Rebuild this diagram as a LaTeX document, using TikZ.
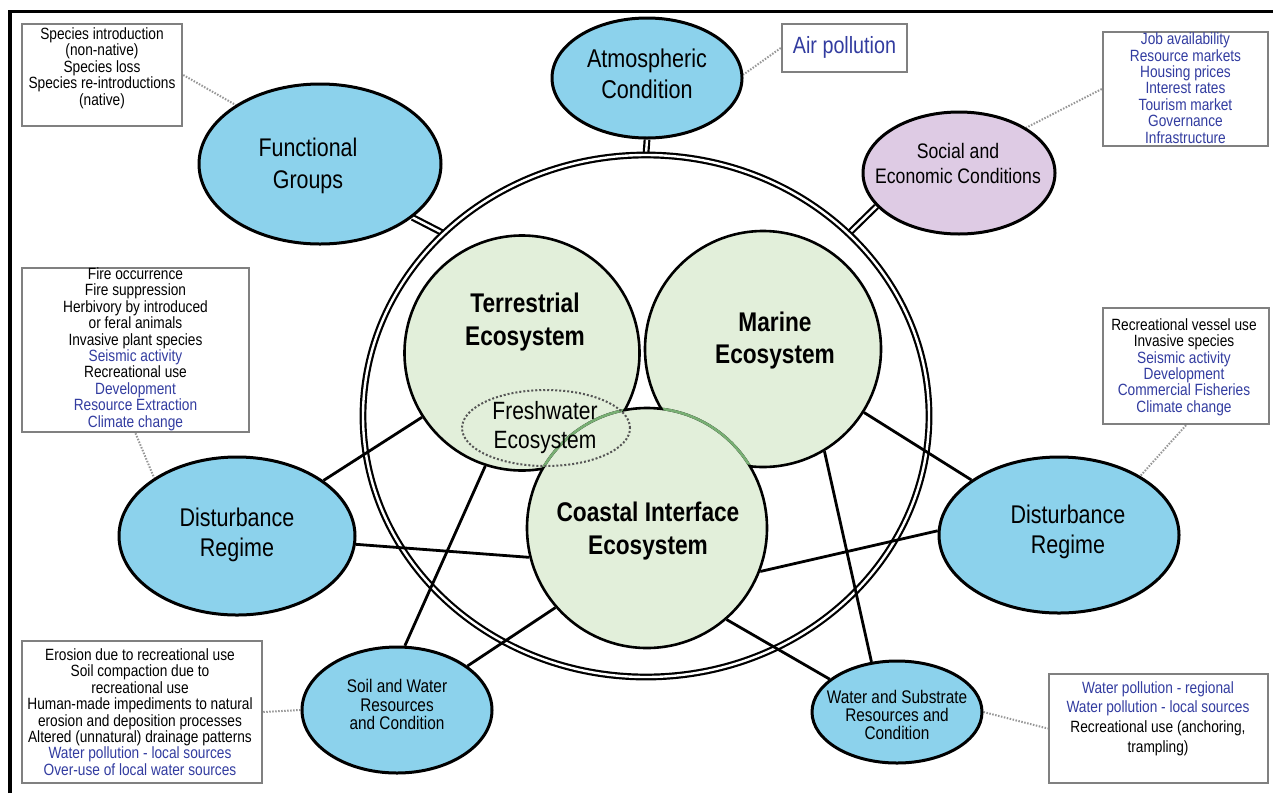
\documentclass[tikz,border=0pt]{standalone}
\usepackage{fontspec}
\setmainfont{Liberation Sans}[FakeStretch=0.84]
\usetikzlibrary{shapes.geometric}
\definecolor{cyanfill}{RGB}{140,210,236}
\definecolor{ecogreen}{RGB}{226,239,218}
\definecolor{lavender}{RGB}{222,203,228}
\definecolor{txtblue}{RGB}{50,60,160}
\definecolor{boxgray}{RGB}{128,128,128}
\definecolor{dotgray}{RGB}{150,150,150}
\definecolor{fwgray}{RGB}{85,85,85}
\definecolor{arcgreen}{RGB}{120,175,115}
\pgfdeclarelayer{conn}
\pgfdeclarelayer{ringl}
\pgfdeclarelayer{lines}
\pgfsetlayers{conn,ringl,lines,main}
\newcommand{\bl}[1]{\textcolor{txtblue}{#1}}
\begin{document}
\begin{tikzpicture}[x=1pt,y=-1pt,
  outer/.style={ellipse, draw, line width=3pt, fill=cyanfill, inner sep=0pt},
  eco/.style={circle, draw, line width=2.6pt, fill=ecogreen, inner sep=0pt},
  callout/.style={rectangle, draw=boxgray, line width=2.5pt, fill=white, inner sep=0pt},
  boxtxt/.style={align=center, inner sep=0pt, font=\fontsize{16.3}{16.4}\selectfont},
  bigtxt/.style={align=center, inner sep=0pt},
  ecotxt/.style={align=center, inner sep=0pt, font=\bfseries\fontsize{27}{33}\selectfont},
  link/.style={line width=2.8pt},
  dbl/.style={draw, double=white, line width=2.2pt, double distance=2.4pt},
  dots/.style={draw=dotgray, line width=2pt, dash pattern=on 1.5pt off 1.5pt}
]
\useasboundingbox (0,0) rectangle (1273,793);
\draw[line width=3.5pt] (10,793) -- (10,11.5) -- (1273,11.5);

% outer nodes
\node[outer, minimum width=242, minimum height=160] (fg) at (320,164) {};
\node[outer, minimum width=190, minimum height=120] (atm) at (647,78) {};
\node[outer, fill=lavender, minimum width=192, minimum height=122] (se) at (959,173) {};
\node[outer, minimum width=236, minimum height=158] (dl) at (237,536) {};
\node[outer, minimum width=240, minimum height=156] (dr) at (1059,535) {};
\node[outer, minimum width=190, minimum height=126] (soil) at (397,710) {};
\node[outer, minimum width=170, minimum height=102] (ws) at (897,712) {};

\node[bigtxt, font=\fontsize{25.5}{32}\selectfont] (fgt) at (308,166) {Functional\\Groups};
\node[bigtxt, font=\fontsize{25.7}{31}\selectfont] (atmt) at (647,73.5) {Atmospheric\\Condition};
\node[bigtxt, font=\fontsize{21}{25}\selectfont] (set) at (958,163) {Social and\\Economic Conditions};
\node[bigtxt, font=\fontsize{25.6}{30}\selectfont] (dlt) at (237,535) {Disturbance\\Regime};
\node[bigtxt, font=\fontsize{25.6}{30}\selectfont] (drt) at (1068,532) {Disturbance\\Regime};
\node[bigtxt, font=\fontsize{18.3}{18.5}\selectfont] (soilt) at (397,704.5) {Soil and Water\\Resources\\and Condition};
\node[bigtxt, font=\fontsize{18.3}{18}\selectfont] (wst) at (897,715) {Water and Substrate\\Resources and\\Condition};

% ring
\begin{pgfonlayer}{ringl}
\node[ellipse, dbl, minimum width=566, minimum height=522, inner sep=0pt] (ring) at (646,416) {};
\end{pgfonlayer}

% ecosystems
\node[eco, minimum size=235] (terr) at (522,353) {};
\node[eco, minimum size=236] (mar) at (763,349) {};
\node[eco, minimum size=240] (coast) at (647,528) {};
\begin{scope}
\clip (terr.center) circle [radius=116];
\draw[line width=2.6pt, arcgreen] (coast.center) circle [radius=120];
\end{scope}
\begin{scope}
\clip (mar.center) circle [radius=116.5];
\draw[line width=2.6pt, arcgreen] (coast.center) circle [radius=120];
\end{scope}
\node[ellipse, draw=fwgray, line width=2pt, dash pattern=on 2pt off 2pt, minimum width=168, minimum height=76, inner sep=0pt] (fw) at (546,428) {};
\node[bigtxt, font=\fontsize{25}{29}\selectfont] (fwt) at (545,428) {Freshwater\\Ecosystem};
\node[ecotxt] (terrt) at (525,322.5) {Terrestrial\\Ecosystem};
\node[ecotxt, font=\bfseries\fontsize{27}{32}\selectfont] (mart) at (775,341) {Marine\\Ecosystem};
\node[ecotxt] (coastt) at (648,531.5) {Coastal Interface\\Ecosystem};

% callout boxes
\node[callout, minimum width=160, minimum height=102] (fgb) at (102,75) {};
\node[boxtxt] (fgbt) at (102,68) {Species introduction\\(non-native)\\Species loss\\Species re-introductions\\(native)};
\node[callout, minimum width=125, minimum height=48] (airb) at (844.5,48) {};
\node[bigtxt, font=\fontsize{23.5}{26}\selectfont] (airbt) at (844.5,47) {\bl{Air pollution}};
\node[callout, minimum width=165, minimum height=114] (seb) at (1185.5,89) {};
\node[boxtxt] (sebt) at (1185.5,88) {\bl{Job availability}\\\bl{Resource markets}\\\bl{Housing prices}\\\bl{Interest rates}\\\bl{Tourism market}\\\bl{Governance}\\\bl{Infrastructure}};
\node[callout, minimum width=227, minimum height=164] (dlb) at (135.5,350) {};
\node[boxtxt] (dlbt) at (135.5,349) {Fire occurrence\\Fire suppression\\Herbivory by introduced\\or feral animals\\Invasive plant species\\\bl{Seismic activity}\\Recreational use\\\bl{Development}\\\bl{Resource Extraction}\\\bl{Climate change}};
\node[callout, minimum width=166, minimum height=116] (drb) at (1186,366) {};
\node[boxtxt] (drbt) at (1184,367) {Recreational vessel use\\Invasive species\\\bl{Seismic activity}\\\bl{Development}\\\bl{Commercial Fisheries}\\\bl{Climate change}};
\node[callout, minimum width=240, minimum height=142] (soilb) at (142,712) {};
\node[boxtxt] (soilbt) at (140,712) {Erosion due to recreational use\\Soil compaction due to\\recreational use\\Human-made impediments to natural\\erosion and deposition processes\\Altered (unnatural) drainage patterns\\\bl{Water pollution - local sources}\\\bl{Over-use of local water sources}};
\node[callout, minimum width=219, minimum height=109] (wsb) at (1158.5,728.5) {};
\node[boxtxt, font=\fontsize{16.3}{19.7}\selectfont] (wsbt) at (1158,718.5) {\bl{Water pollution - regional}\\\bl{Water pollution - local sources}\\Recreational use (anchoring,\\trampling)};

% double connectors to ring
\begin{pgfonlayer}{conn}
\draw[dbl] (fg.-30) -- (ring.138);
\draw[dbl] (atm.south) -- (ring.north);
\draw[dbl] (se.202) -- (ring.42);
\end{pgfonlayer}

% links and dotted callout connectors
\begin{pgfonlayer}{lines}
\draw[link] (dl) -- (terr);
\draw[link] (dl.-4) -- (coast.194);
\draw[link] (mar) -- (dr);
\draw[link] (coast.-21) -- (dr.178);
\draw[link] (soil.83) -- (terr.252);
\draw[link] (soil.32) -- (coast.221);
\draw[link] (mar.-59) -- (ws.117);
\draw[link] (coast.-49) -- (ws.154);
\draw[dots] (fgb.east) -- (fg.145);
\draw[dots] (airb.west) -- (atm.2);
\draw[dots] (seb.west) -- (se.34);
\draw[dots] (dlb.south) -- (dl.145);
\draw[dots] (drb.south) -- (dr.36);
\draw[dots] (soilb.east) -- (soil.west);
\draw[dots] (ws.east) -- (wsb.west);
\end{pgfonlayer}
\end{tikzpicture}
\end{document}
